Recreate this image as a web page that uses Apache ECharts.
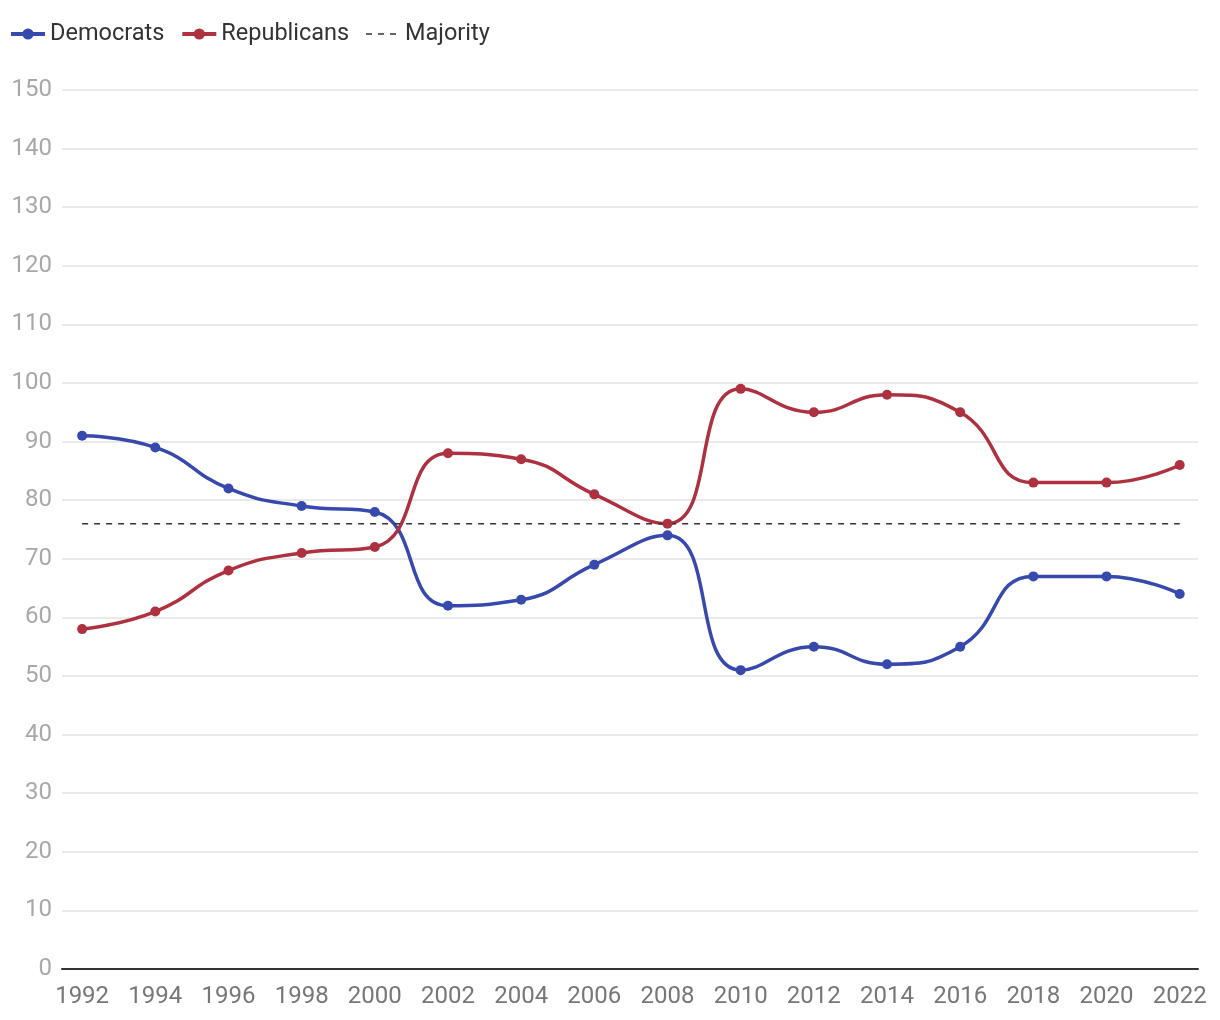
<!DOCTYPE html>
<html><head><meta charset="utf-8">
<script src="https://cdn.jsdelivr.net/npm/echarts@6/dist/echarts.min.js"></script>
<style>html,body{margin:0;padding:0;background:#fff}#c{width:1220px;height:1020px}</style>
</head><body><div id="c"></div>
<script>
const years = [1992,1994,1996,1998,2000,2002,2004,2006,2008,2010,2012,2014,2016,2018,2020,2022];
const democrats = [91,89,82,79,78,62,63,69,74,51,55,52,55,67,67,64];
const republicans = [58,61,68,71,72,88,87,81,76,99,95,98,95,83,83,86];
const majority = 76;

const pair = arr => years.map((y,i)=>[y,arr[i]]);
const chart = echarts.init(document.getElementById('c'));
chart.setOption({
  animation:false,
  textStyle:{fontFamily:'Roboto'},
  legend:{left:4,top:17,itemWidth:34,itemHeight:14,itemGap:16,
    textStyle:{fontSize:23.5,color:'#333',fontFamily:'Roboto'},
    data:[
      {name:'Democrats',lineStyle:{width:4}},
      {name:'Republicans',lineStyle:{width:4}},
      {name:'Majority',itemStyle:{opacity:0},lineStyle:{width:1.5}}
    ]},
  grid:{left:62,right:22,top:90,bottom:51},
  xAxis:{type:'value',min:1991.45,max:2022.5,
    splitLine:{show:false},axisTick:{show:false},
    axisLine:{show:true,lineStyle:{color:'#333',width:2}},
    axisLabel:{customValues:years,formatter:v=>String(v),fontSize:24,color:'#777',margin:16,fontFamily:'Roboto'}},
  yAxis:{type:'value',min:0,max:150,interval:10,
    axisLine:{show:false},axisTick:{show:false},
    splitLine:{lineStyle:{color:'#e3e3e3',width:1.5}},
    axisLabel:{fontSize:24,color:'#a8a8a8',margin:10,fontFamily:'Roboto'}},
  series:[
    {name:'Democrats',type:'line',smooth:true,data:pair(democrats),
     symbol:'circle',symbolSize:10,color:'#3749ad',lineStyle:{width:3.5}},
    {name:'Republicans',type:'line',smooth:true,data:pair(republicans),
     symbol:'circle',symbolSize:10,color:'#ae3140',lineStyle:{width:3.5}},
    {name:'Majority',type:'line',data:years.map(y=>[y,majority]),
     symbol:'none',color:'#333',lineStyle:{width:1.5,type:[6,6],color:'#333'}}
  ]
});
</script></body></html>
